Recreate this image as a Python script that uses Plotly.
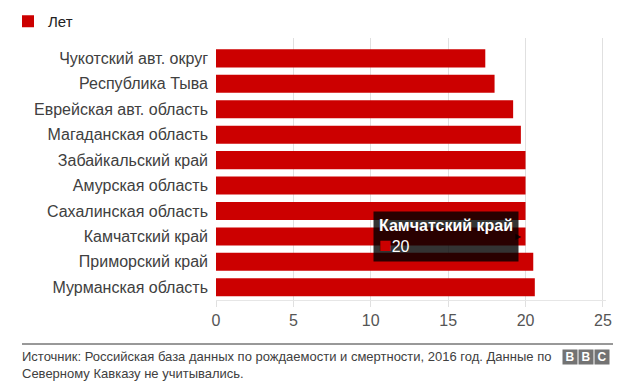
import plotly.graph_objects as go

regions = [
    "Чукотский авт. округ",
    "Республика Тыва",
    "Еврейская авт. область",
    "Магаданская область",
    "Забайкальский край",
    "Амурская область",
    "Сахалинская область",
    "Камчатский край",
    "Приморский край",
    "Мурманская область",
]
years = [17.4, 18.0, 19.2, 19.7, 20.0, 20.0, 20.0, 20.0, 20.5, 20.6]
x_ticks = [0, 5, 10, 15, 20, 25]
series_name = "Лет"
tooltip_region = "Камчатский край"
source_text = ("Источник: Российская база данных по рождаемости и смертности, 2016 год. Данные по<br>"
               "Северному Кавказу не учитывались.")

RED = "#cc0000"
FONT = "Liberation Sans, Arial, sans-serif"

W, H = 628, 386
L, R, T, B = 216, 22, 38, 86
PW, PH = W - L - R, H - T - B


def px(x):
    return (x - L) / PW


def py(y):
    return (H - B - y) / PH


fig = go.Figure()
fig.add_trace(go.Bar(
    y=regions, x=years, orientation="h", name=series_name,
    marker=dict(color=RED, line=dict(width=0)),
    showlegend=True,
))

fig.update_layout(
    width=W, height=H,
    margin=dict(l=L, r=R, t=T, b=B, autoexpand=False),
    paper_bgcolor="white", plot_bgcolor="white",
    font=dict(family=FONT, color="#404040"),
    bargap=0.29,
    showlegend=True,
    legend=dict(orientation="h", x=px(8), xanchor="left", xref="paper",
                y=py(5), yanchor="top", yref="paper",
                font=dict(size=15, color="#222222", family=FONT),
                itemwidth=30, bgcolor="rgba(0,0,0,0)"),
    xaxis=dict(range=[0, 25.2], tickvals=x_ticks, showgrid=True, gridcolor="#e0e0e0",
               gridwidth=1, zeroline=False, showline=True, linecolor="#e6e6e6",
               ticks="outside", ticklen=6, tickcolor="#e0e0e0", automargin=False,
               tickfont=dict(size=16, color="#555555", family=FONT), fixedrange=True),
    yaxis=dict(categoryorder="array", categoryarray=regions, autorange=False,
               range=[9.5, -0.8], showgrid=False, zeroline=False, ticks="",
               ticklabelstandoff=7, automargin=False, fixedrange=True,
               tickfont=dict(size=16, color="#404040", family=FONT)),
)

# footer line
fig.add_shape(type="line", xref="paper", yref="paper",
              x0=px(22), x1=px(613), y0=py(344), y1=py(344),
              line=dict(color="#333333", width=1))
fig.add_annotation(text=source_text, xref="paper", yref="paper", x=px(20), y=py(347),
                   xanchor="left", yanchor="top", align="left", showarrow=False,
                   font=dict(size=13, color="#404040", family=FONT))
for i, letter in enumerate("BBC"):
    fig.add_annotation(text="<b>%s</b>" % letter, xref="paper", yref="paper",
                       x=px(569.5 + i * 16), y=py(349), xanchor="center", yanchor="top",
                       showarrow=False, bgcolor="#737373", width=14, height=14,
                       font=dict(size=12, color="white", family=FONT), borderpad=0)

# tooltip
ti = regions.index(tooltip_region)
fig.add_annotation(
    x=years[ti], y=tooltip_region, xref="x", yref="y",
    text="<b>%s</b><br><span style='color:%s;font-size:21px'>■</span>%g"
         % (tooltip_region, RED, years[ti]),
    showarrow=False, xanchor="right", yanchor="middle", xshift=-7, align="left",
    bgcolor="rgba(0,0,0,0.8)", borderpad=5,
    font=dict(size=16, color="white", family=FONT),
)
fig.add_annotation(
    x=years[ti], y=tooltip_region, xref="x", yref="y", text="▶",
    showarrow=False, xanchor="right", yanchor="middle", xshift=-2,
    font=dict(size=8, color="rgba(0,0,0,0.8)", family="DejaVu Sans"),
)

fig.write_html("out.html", config={"displayModeBar": False},
               post_script="document.body.style.margin='0px';")
